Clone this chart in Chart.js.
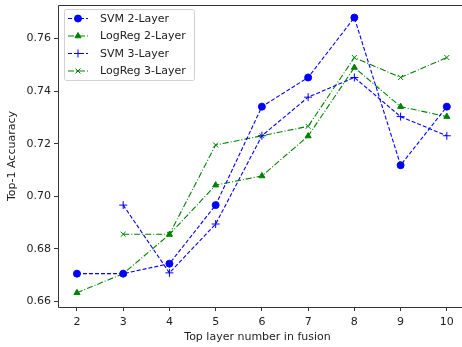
<!DOCTYPE html>
<html>
<head>
<meta charset="utf-8">
<script src="https://cdn.jsdelivr.net/npm/chart.js@4"></script>
<style>
html,body{margin:0;padding:0;background:#fff;}
#wrap{width:462px;height:347px;}
</style>
</head>
<body>
<div id="wrap"><canvas id="c" width="462" height="347"></canvas></div>
<script>
const layers = [2, 3, 4, 5, 6, 7, 8, 9, 10];
const svm2 = [0.6705, 0.6705, 0.6743, 0.6966, 0.7341, 0.7452, 0.7680, 0.7118, 0.7341];
const logreg2 = [0.6632, 0.6705, 0.6854, 0.7042, 0.7077, 0.7229, 0.7490, 0.7341, 0.7303];
const svm3 = [null, 0.6966, 0.6708, 0.6894, 0.7230, 0.7377, 0.7452, 0.7303, 0.7230];
const logreg3 = [null, 0.6855, 0.6855, 0.7195, 0.7230, 0.7266, 0.7528, 0.7452, 0.7528];
const xTicks = [2, 3, 4, 5, 6, 7, 8, 9, 10];
const yTicks = [0.66, 0.68, 0.70, 0.72, 0.74, 0.76];
const seriesNames = ['SVM 2-Layer', 'LogReg 2-Layer', 'SVM 3-Layer', 'LogReg 3-Layer'];

const BLUE = '#0000ff', GREEN = '#008000';
const DASH = [4, 2], DASHDOT = [6, 2, 1, 2];

function pts(arr){ return layers.map((x,i)=>arr[i]==null?null:{x:x,y:arr[i]}).filter(p=>p); }

const styles = [
  {color:BLUE, dash:DASH, point:'circle', r:3.5},
  {color:GREEN, dash:DASHDOT, point:'triangle', r:3.5},
  {color:BLUE, dash:DASH, point:'cross', r:4},
  {color:GREEN, dash:DASHDOT, point:'crossRot', r:3.5}
];
const dataArrs = [svm2, logreg2, svm3, logreg3];

const datasets = dataArrs.map((arr,i)=>({
  label: seriesNames[i],
  data: pts(arr),
  borderColor: styles[i].color,
  backgroundColor: styles[i].color,
  borderWidth: 1.1,
  borderDash: styles[i].dash,
  pointStyle: styles[i].point,
  pointRadius: styles[i].r,
  pointBorderWidth: 1,
  pointBorderColor: styles[i].color,
  pointBackgroundColor: styles[i].color,
  tension: 0,
  fill: false,
  clip: false
}));

const FONT = "'DejaVu Sans', sans-serif";

const framePlugin = {
  id: 'frame',
  afterDraw(chart){
    const {ctx, chartArea:a} = chart;
    const W = chart.width;
    ctx.save();
    ctx.strokeStyle = '#333';
    ctx.lineWidth = 1;
    ctx.setLineDash([]);
    ctx.beginPath();
    ctx.moveTo(a.left+0.5, a.bottom+0.5);
    ctx.lineTo(a.left+0.5, a.top+0.5);
    ctx.lineTo(W, a.top+0.5);
    ctx.moveTo(a.left+0.5, a.bottom+0.5);
    ctx.lineTo(W, a.bottom+0.5);
    ctx.stroke();

    // legend
    const lx = 64, ly = 9.5, lw = 130, lh = 71;
    ctx.fillStyle = 'rgba(255,255,255,0.85)';
    ctx.strokeStyle = '#d0d0d0';
    ctx.beginPath();
    if (ctx.roundRect) ctx.roundRect(lx+0.5, ly, lw, lh, 2); else ctx.rect(lx+0.5, ly, lw, lh);
    ctx.fill(); ctx.stroke();
    ctx.font = '11px ' + FONT;
    ctx.textBaseline = 'middle';
    ctx.textAlign = 'left';
    chart.data.datasets.forEach((ds,i)=>{
      const y = 18.5 + i*17.5;
      ctx.strokeStyle = ds.borderColor;
      ctx.lineWidth = 1.1;
      ctx.setLineDash(ds.borderDash);
      ctx.beginPath();
      ctx.moveTo(68, y); ctx.lineTo(88, y); ctx.stroke();
      ctx.setLineDash([]);
      ctx.lineWidth = 1;
      ctx.fillStyle = ds.pointBackgroundColor;
      ctx.strokeStyle = ds.pointBorderColor;
      Chart.helpers.drawPoint(ctx, {pointStyle: ds.pointStyle, radius: ds.pointRadius, borderWidth: 1}, 78, y);
      ctx.fillStyle = '#222';
      ctx.fillText(ds.label, 100, y+0.5);
    });
    ctx.restore();
  }
};

new Chart(document.getElementById('c'), {
  type: 'line',
  data: { datasets },
  options: {
    responsive: false,
    animation: false,
    devicePixelRatio: 1,
    layout: { padding: { top: 4, right: 0, left: 0, bottom: 0 } },
    plugins: { legend: { display: false }, tooltip: { enabled: false } },
    scales: {
      x: {
        type: 'linear',
        min: 1.59, max: 10.22,
        afterBuildTicks: s => { s.ticks = xTicks.map(v=>({value:v})); },
        afterFit: s => { s.height = 40; s.paddingLeft = 0; s.paddingRight = 0; },
        grid: { display: true, drawOnChartArea: false, drawTicks: true, tickLength: 4, color: '#333' },
        border: { display: false },
        ticks: { color: '#222', font: { family: FONT, size: 11 }, padding: 5, maxRotation: 0, callback: v => String(v) },
        title: { display: true, text: 'Top layer number in fusion', color: '#222', font: { family: FONT, size: 11 }, padding: { top: 2, bottom: 3 } }
      },
      y: {
        type: 'linear',
        min: 0.6578, max: 0.7728,
        afterBuildTicks: s => { s.ticks = yTicks.map(v=>({value:v})); },
        afterFit: s => { s.width = 58; s.paddingTop = 0; s.paddingBottom = 0; },
        grid: { display: true, drawOnChartArea: false, drawTicks: true, tickLength: 4, color: '#333' },
        border: { display: false },
        ticks: { color: '#222', font: { family: FONT, size: 11 }, padding: 3, callback: v => v.toFixed(2) },
        title: { display: true, text: 'Top-1 Accuaracy', color: '#222', font: { family: FONT, size: 11 }, padding: { top: 6, bottom: 2 } }
      }
    }
  },
  plugins: [framePlugin]
});
</script>
</body>
</html>
